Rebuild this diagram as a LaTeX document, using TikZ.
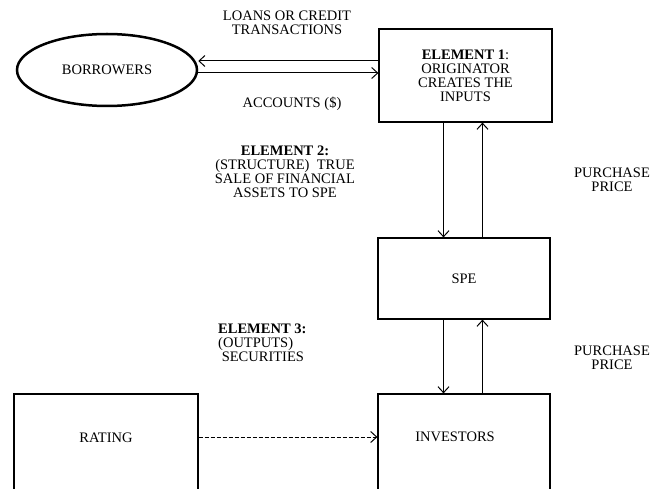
\documentclass[tikz,border=0pt]{standalone}
\usepackage{fontspec}
\setmainfont{Liberation Serif}
\usetikzlibrary{arrows.meta,shapes.geometric}
\tikzset{
  box/.style={draw, line width=1.2pt, rectangle, inner sep=0pt, align=center},
  arr/.style={line width=1pt, -{Straight Barb[length=6pt,width=11pt,line width=1pt]}},
  darr/.style={arr, dash pattern=on 4pt off 2pt},
  lbl/.style={align=center, inner sep=0pt},
}
\begin{document}
\begin{tikzpicture}[x=1pt,y=-1pt,font=\fontsize{14.5}{14}\selectfont]
\useasboundingbox (0,0) rectangle (650,489);
\clip (0,0) rectangle (650,489);
% nodes
\node[draw, ellipse, line width=2.5pt, minimum width=180pt, minimum height=72pt, inner sep=0pt] (borrowers) at (107,70) {BORROWERS};
\node[box, minimum width=173pt, minimum height=93pt] (el1) at (465.5,75.5)
  {\textbf{ELEMENT 1}:\\ORIGINATOR\\CREATES THE\\INPUTS};
\node[box, minimum width=172pt, minimum height=81pt] (spe) at (464,278.5) {SPE};
\node[box, minimum width=172pt, minimum height=130pt] (investors) at (464,459) {};
\node[lbl] (invtext) at (455,437) {INVESTORS};
\node[box, minimum width=184pt, minimum height=130pt] (rating) at (106,459) {};
\node[lbl] (ratingtext) at (106,438) {RATING};
% labels
\node[lbl] (loans) at (287,23) {LOANS OR CREDIT\\TRANSACTIONS};
\node[lbl] (accounts) at (292,104) {ACCOUNTS (\$)};
\node[lbl] (el2) at (285,172) {\textbf{ELEMENT 2:}\\(STRUCTURE)\ \ TRUE\\SALE OF FINANCIAL\\ASSETS TO SPE};
\node[lbl] (pp1) at (612,179.5) {PURCHASE\\PRICE};
\node[lbl, align=left, anchor=west] (el3) at (218,343) {\textbf{ELEMENT 3:}\\(OUTPUTS)\\\ SECURITIES};
\node[lbl] (pp2) at (612,358) {PURCHASE\\PRICE};
% x positions for vertical connectors
\coordinate (xl) at (443.5,0);
\coordinate (xr) at (482.5,0);
% connectors
\draw[arr] ([yshift=14.5pt]el1.west) -- ([yshift=14.5pt]el1.west -| borrowers.east);
\draw[arr] ([yshift=2.5pt]el1.west -| borrowers.east) -- ([yshift=2.5pt]el1.west);
\draw[arr] (el1.south -| xl) -- (spe.north -| xl);
\draw[arr] (spe.north -| xr) -- (el1.south -| xr);
\draw[arr] (spe.south -| xl) -- (investors.north -| xl);
\draw[arr] (investors.north -| xr) -- (spe.south -| xr);
\draw[darr] (rating.east |- invtext) -- (investors.west |- invtext);
\end{tikzpicture}
\end{document}
